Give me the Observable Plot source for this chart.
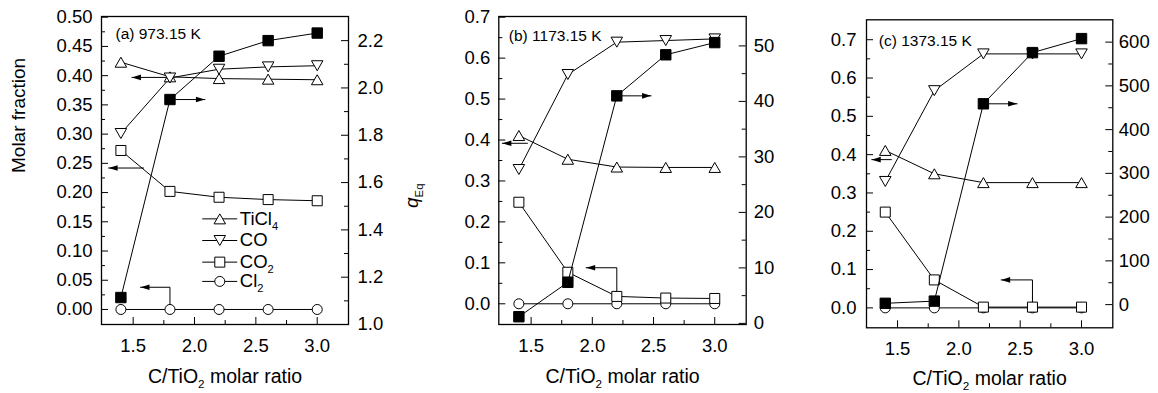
<!DOCTYPE html>
<html>
<head>
<meta charset="utf-8">
<script src="https://cdn.jsdelivr.net/npm/d3@7"></script>
<script src="https://cdn.jsdelivr.net/npm/@observablehq/plot@0.6"></script>
<style>
  body { margin: 0; background: #fff; }
  #chart { position: relative; width: 1158px; height: 393px; background: #fff; }
</style>
</head>
<body>
<div id="chart"></div>
<script>
// ---------- data ----------
const ratio = [1.4, 1.8, 2.2, 2.6, 3.0];
const speciesNames = ["TiCl_{4}", "CO", "CO_{2}", "Cl_{2}"];
const panelTitles = ["(a) 973.15 K", "(b) 1173.15 K", "(c) 1373.15 K"];
const xLabel = "C/TiO_{2} molar ratio";
const yLeftLabel = "Molar fraction";
const yRightLabel = "*q*_{Eq}";

// (a) 973.15 K
const tiCl4A = [0.423, 0.398, 0.395, 0.394, 0.393];
const coA    = [0.301, 0.396, 0.411, 0.415, 0.417];
const co2A   = [0.272, 0.202, 0.192, 0.188, 0.186];
const cl2A   = [0, 0, 0, 0, 0];
const qEqA   = [1.114, 1.951, 2.134, 2.200, 2.232];

// (b) 1173.15 K
const tiCl4B = [0.411, 0.353, 0.334, 0.333, 0.333];
const coB    = [0.328, 0.560, 0.639, 0.643, 0.647];
const co2B   = [0.248, 0.077, 0.018, 0.014, 0.013];
const cl2B   = [0, 0, 0, 0, 0];
const qEqB   = [1.2, 7.4, 41.0, 48.4, 50.6];

// (c) 1373.15 K
const tiCl4C = [0.411, 0.350, 0.327, 0.327, 0.327];
const coC    = [0.330, 0.567, 0.663, 0.663, 0.663];
const co2C   = [0.250, 0.073, 0.002, 0.002, 0.002];
const cl2C   = [0, 0, 0, 0, 0];
const qEqC   = [3, 8, 459, 576, 608];

// tick values
const xMajor = [1.5, 2.0, 2.5, 3.0];
const xMinor = [1.75, 2.25, 2.75];
const leftMajorA = [0, 0.05, 0.10, 0.15, 0.20, 0.25, 0.30, 0.35, 0.40, 0.45, 0.50];
const leftMinorA = [0.025, 0.075, 0.125, 0.175, 0.225, 0.275, 0.325, 0.375, 0.425, 0.475];
const rightMajorA = [1.0, 1.2, 1.4, 1.6, 1.8, 2.0, 2.2];
const rightMinorA = [1.1, 1.3, 1.5, 1.7, 1.9, 2.1];
const leftMajorBC = [0, 0.1, 0.2, 0.3, 0.4, 0.5, 0.6, 0.7];
const leftMinorBC = [0.05, 0.15, 0.25, 0.35, 0.45, 0.55, 0.65];
const rightMajorB = [0, 10, 20, 30, 40, 50];
const rightMinorB = [5, 15, 25, 35, 45];
const rightMajorC = [0, 100, 200, 300, 400, 500, 600];
const rightMinorC = [50, 150, 250, 350, 450, 550];

// annotation arrows (data units; axis tells which y scale)
const arrowsA = [
  {axis: "left",  pts: [[1.8, 0.397], [1.49, 0.397]]},
  {axis: "left",  pts: [[1.585, 0.242], [1.30, 0.242]]},
  {axis: "left",  pts: [[1.8, 0], [1.8, 0.038], [1.56, 0.038]]},
  {axis: "right", pts: [[1.8, 1.951], [2.085, 1.951]]}
];
const arrowsB = [
  {axis: "left",  pts: [[1.47, 0.392], [1.265, 0.392]]},
  {axis: "left",  pts: [[2.2, 0.018], [2.2, 0.088], [1.95, 0.088]]},
  {axis: "right", pts: [[2.2, 41.0], [2.48, 41.0]]}
];
const arrowsC = [
  {axis: "left",  pts: [[1.45, 0.387], [1.29, 0.387]]},
  {axis: "left",  pts: [[2.6, 0], [2.6, 0.073], [2.345, 0.073]]},
  {axis: "right", pts: [[2.2, 459], [2.475, 459]]}
];

// ---------- symbols ----------
const symUp = {draw(c) { c.moveTo(0, -5); c.lineTo(5.75, 5); c.lineTo(-5.75, 5); c.closePath(); }};
const symDown = {draw(c) { c.moveTo(0, 5); c.lineTo(5.75, -5); c.lineTo(-5.75, -5); c.closePath(); }};
const symSquare = {draw(c) { c.rect(-5, -5, 10, 10); }};
const symCircle = {draw(c) { c.moveTo(5, 0); c.arc(0, 0, 5, 0, 2 * Math.PI); }};
const symFilled = {draw(c) { c.rect(-5.2, -5.2, 10.4, 10.4); }};
const headLeft = {draw(c) { c.moveTo(0, 0); c.lineTo(9, -2.8); c.lineTo(9, 2.8); c.closePath(); }};
const headRight = {draw(c) { c.moveTo(0, 0); c.lineTo(-9, -2.8); c.lineTo(-9, 2.8); c.closePath(); }};
const speciesSymbols = [symUp, symDown, symSquare, symCircle];

// ---------- layout ----------
const panels = [
  {left: 0, width: 440, ml: 101, mr: 92, mt: 16, mb: 69,
   x: [1.242, 3.255], yL: [-0.0257, 0.5012], yR: [1.0, 2.302],
   species: [tiCl4A, coA, co2A, cl2A], q: qEqA, arrows: arrowsA,
   lMaj: leftMajorA, lMin: leftMinorA, rMaj: rightMajorA, rMin: rightMinorA,
   lFmt: ".2f", rFmt: ".1f", lPad: 9, rPad: 9,
   titleDx: 14, titleDy: 17.8, xLabDy: 52, legend: true, leftLabel: true, rightLabel: true},
  {left: 380, width: 400, ml: 118.3, mr: 34.3, mt: 16, mb: 69,
   x: [1.236, 3.257], yL: [-0.0506, 0.7017], yR: [-0.2, 55.3],
   species: [tiCl4B, coB, co2B, cl2B], q: qEqB, arrows: arrowsB,
   lMaj: leftMajorBC, lMin: leftMinorBC, rMaj: rightMajorB, rMin: rightMinorB,
   lFmt: ".1f", rFmt: "d", lPad: 8.5, rPad: 7.5,
   titleDx: 10, titleDy: 19.8, xLabDy: 52.5},
  {left: 760, width: 398, ml: 106, mr: 45.7, mt: 19.3, mb: 65.7,
   x: [1.247, 3.255], yL: [-0.052, 0.752], yR: [-53, 651],
   species: [tiCl4C, coC, co2C, cl2C], q: qEqC, arrows: arrowsC,
   lMaj: leftMajorBC, lMin: leftMinorBC, rMaj: rightMajorC, rMin: rightMinorC,
   lFmt: ".1f", rFmt: "d", lPad: 10, rPad: 6,
   titleDx: 12.3, titleDy: 21.5, xLabDy: 51}
];
// legend placement in panel (a) data units
const legendLayout = {x1: 2.063, x2: 2.348, xm: 2.206, xt: 2.369, ys: [0.155, 0.118, 0.081, 0.048]};

const FONT = "'Liberation Sans', Arial, Helvetica, sans-serif";
const MAJ = 7, MIN = 4;

function arrowMarks(list, axis) {
  const marks = [];
  for (const a of list.filter(a => a.axis === axis)) {
    const pts = a.pts;
    const last = pts[pts.length - 1], prev = pts[pts.length - 2];
    marks.push(Plot.line(pts, {x: p => p[0], y: p => p[1], stroke: "black", strokeWidth: 1}));
    marks.push(Plot.dot([last], {x: p => p[0], y: p => p[1], symbol: last[0] < prev[0] ? headLeft : headRight,
      fill: "black", stroke: "none"}));
  }
  return marks;
}

function render(cfg, idx) {
  const fw = cfg.width - cfg.ml - cfg.mr, fh = 393 - cfg.mt - cfg.mb;
  const style = `position:absolute;left:${cfg.left}px;top:0;background:transparent;overflow:visible;font-family:${FONT};font-size:18.5px;color:black;`;
  const common = {width: cfg.width, height: 393, marginLeft: cfg.ml, marginRight: cfg.mr,
    marginTop: cfg.mt, marginBottom: cfg.mb, x: {domain: cfg.x, axis: null}, style};

  const leftMarks = [
    Plot.tickY(cfg.lMaj, {y: d => d, insetRight: fw - MAJ, stroke: "black", strokeWidth: 1}),
    Plot.tickY(cfg.lMin, {y: d => d, insetRight: fw - MIN, stroke: "black", strokeWidth: 1}),
    Plot.tickX(xMajor, {x: d => d, insetTop: fh - MAJ, stroke: "black", strokeWidth: 1}),
    Plot.tickX(xMinor, {x: d => d, insetTop: fh - MIN, stroke: "black", strokeWidth: 1}),
    Plot.axisY(cfg.lMaj, {anchor: "left", tickSize: 0, tickPadding: cfg.lPad, tickFormat: cfg.lFmt, label: null}),
    Plot.axisX(xMajor, {anchor: "bottom", tickSize: 0, tickPadding: 14, tickFormat: ".1f", label: null}),
    Plot.text([panelTitles[idx]], {text: d => d, frameAnchor: "top-left", dx: cfg.titleDx, dy: cfg.titleDy,
      textAnchor: "start", lineAnchor: "middle", fontSize: 15.5}),
    Plot.text([xLabel], {text: d => d, frameAnchor: "bottom", dy: cfg.xLabDy, lineAnchor: "middle", fontSize: 19.5}),
    ...cfg.species.map(v => Plot.line(ratio, {x: ratio, y: v, stroke: "black", strokeWidth: 1})),
    ...arrowMarks(cfg.arrows, "left")
  ];
  if (cfg.leftLabel) {
    leftMarks.push(Plot.text([yLeftLabel], {text: d => d, frameAnchor: "left", dx: -83, dy: 2.5,
      rotate: -90, lineAnchor: "middle", fontSize: 19}));
  }
  if (cfg.legend) {
    const L = legendLayout;
    speciesNames.forEach((name, i) => {
      leftMarks.push(Plot.link([0], {x1: L.x1, x2: L.x2, y1: L.ys[i], y2: L.ys[i], stroke: "black", strokeWidth: 1}));
      leftMarks.push(Plot.dot([0], {x: L.xm, y: L.ys[i], symbol: speciesSymbols[i], fill: "white", stroke: "black", strokeWidth: 1}));
      leftMarks.push(Plot.text([name], {text: d => d, x: L.xt, y: L.ys[i], textAnchor: "start", lineAnchor: "middle", fontSize: 18.5}));
    });
  }
  // dots: Cl2 first, then TiCl4, CO, CO2 on top
  [3, 0, 1, 2].forEach(i => {
    leftMarks.push(Plot.dot(ratio, {x: ratio, y: cfg.species[i], symbol: speciesSymbols[i],
      fill: "white", stroke: "black", strokeWidth: 1}));
  });
  leftMarks.push(Plot.frame({stroke: "black", strokeWidth: 1.3}));

  const rightMarks = [
    Plot.tickY(cfg.rMaj, {y: d => d, insetLeft: fw - MAJ, stroke: "black", strokeWidth: 1}),
    Plot.tickY(cfg.rMin, {y: d => d, insetLeft: fw - MIN, stroke: "black", strokeWidth: 1}),
    Plot.axisY(cfg.rMaj, {anchor: "right", tickSize: 0, tickPadding: cfg.rPad, tickFormat: cfg.rFmt, label: null}),
    Plot.line(ratio, {x: ratio, y: cfg.q, stroke: "black", strokeWidth: 1}),
    ...arrowMarks(cfg.arrows, "right"),
    Plot.dot(ratio, {x: ratio, y: cfg.q, symbol: symFilled, fill: "black", stroke: "black", strokeWidth: 1})
  ];
  if (cfg.rightLabel) {
    rightMarks.push(Plot.text([yRightLabel], {text: d => d, frameAnchor: "right", dx: 63.7, dy: 13,
      rotate: -90, lineAnchor: "middle", fontSize: 19}));
  }

  const leftSvg = Plot.plot({...common, y: {domain: cfg.yL, axis: null}, marks: leftMarks});
  const rightSvg = Plot.plot({...common, y: {domain: cfg.yR, axis: null}, marks: rightMarks});
  return [leftSvg, rightSvg];
}

function markup(svg) {
  svg.querySelectorAll("text").forEach(t => {
    const s = t.textContent;
    if (!/[_*]/.test(s)) return;
    const parts = s.split(/(_\{[^}]*\}|\*[^*]*\*)/).filter(p => p);
    while (t.firstChild) t.removeChild(t.firstChild);
    let shifted = false;
    for (const p of parts) {
      const ts = document.createElementNS("http://www.w3.org/2000/svg", "tspan");
      if (p.startsWith("_{")) {
        ts.textContent = p.slice(2, -1);
        ts.setAttribute("font-size", "0.6em");
        if (!shifted) { ts.setAttribute("dy", "5"); shifted = true; }
      } else {
        let txt = p;
        if (p.startsWith("*")) { txt = p.slice(1, -1); ts.setAttribute("font-style", "italic"); }
        ts.textContent = txt;
        if (shifted) { ts.setAttribute("dy", "-5"); shifted = false; }
      }
      t.appendChild(ts);
    }
  });
}

const chart = document.getElementById("chart");
panels.forEach((cfg, i) => {
  for (const svg of render(cfg, i)) {
    markup(svg);
    chart.appendChild(svg);
  }
});
</script>
</body>
</html>
